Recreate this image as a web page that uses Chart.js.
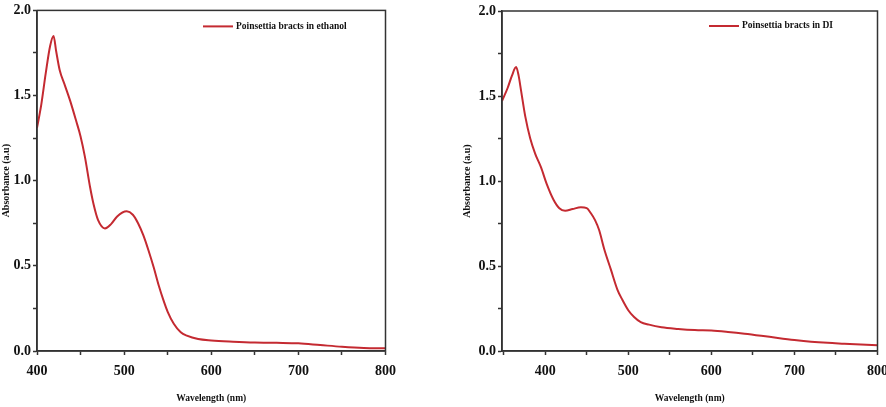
<!DOCTYPE html>
<html>
<head>
<meta charset="utf-8">
<script src="https://cdn.jsdelivr.net/npm/chart.js@4/dist/chart.umd.min.js"></script>
<style>
  html, body { margin: 0; padding: 0; background: #fff; }
  #wrap { position: relative; width: 886px; height: 407px; overflow: hidden; }
  .box { position: absolute; top: 0; height: 407px; }
  #leftBox { left: 0; width: 404px; }
  #rightBox { left: 440px; width: 456px; }
</style>
</head>
<body>
<div id="wrap">
  <div class="box" id="leftBox"><canvas id="ethanolChart"></canvas></div>
  <div class="box" id="rightBox"><canvas id="diChart"></canvas></div>
</div>
<script>
// ethanol extract
const ethanolWavelength = [400, 405, 410, 415, 419, 422, 426, 432, 438, 445, 450, 455, 461, 465, 470, 478, 485, 492, 503, 510, 516, 522, 528, 534, 540, 545, 550, 557, 565, 572, 585, 600, 625, 650, 675, 700, 725, 750, 775, 800];
const ethanolAbs = [1.31, 1.45, 1.63, 1.79, 1.85, 1.76, 1.65, 1.56, 1.47, 1.35, 1.26, 1.14, 0.96, 0.86, 0.77, 0.72, 0.745, 0.79, 0.82, 0.80, 0.75, 0.68, 0.59, 0.49, 0.38, 0.30, 0.23, 0.16, 0.11, 0.09, 0.07, 0.062, 0.055, 0.05, 0.048, 0.045, 0.035, 0.025, 0.018, 0.016];

// DI water extract
const diWavelength = [348, 355, 360, 365, 368, 371, 376, 382, 388, 395, 402, 410, 417, 424, 433, 443, 450, 455, 460, 465, 471, 479, 487, 493, 500, 507, 515, 525, 540, 560, 580, 600, 620, 640, 660, 680, 700, 720, 740, 760, 780, 800];
const diAbs = [1.47, 1.55, 1.62, 1.67, 1.62, 1.53, 1.38, 1.25, 1.16, 1.08, 0.98, 0.89, 0.84, 0.825, 0.835, 0.845, 0.84, 0.81, 0.77, 0.71, 0.60, 0.48, 0.36, 0.30, 0.24, 0.20, 0.17, 0.155, 0.14, 0.13, 0.123, 0.12, 0.112, 0.102, 0.09, 0.077, 0.065, 0.055, 0.048, 0.043, 0.038, 0.034];

const yTicks = ["0.0", "0.5", "1.0", "1.5", "2.0"];

const lineColor = "#c42a31";
const axisColor = "#333333";
const serif = "'Liberation Serif', 'Times New Roman', serif";

// box round the plot + legend drawn inside it
const frame = {
    id: "frame",
    afterDraw(chart, args, opts) {
        const a = chart.chartArea;
        const ctx = chart.ctx;
        ctx.save();
        ctx.strokeStyle = axisColor;
        ctx.lineWidth = 1.5;
        ctx.strokeRect(a.left, a.top, a.right - a.left, a.bottom - a.top);

        const ds = chart.data.datasets[0];
        const lx = a.left + opts.dx;
        const ly = a.top + opts.dy;
        ctx.strokeStyle = ds.borderColor;
        ctx.lineWidth = 2;
        ctx.beginPath();
        ctx.moveTo(lx, ly);
        ctx.lineTo(lx + 30, ly);
        ctx.stroke();
        ctx.fillStyle = "#111";
        ctx.font = "bold 9.5px " + serif;
        ctx.textBaseline = "middle";
        ctx.fillText(ds.label, lx + 33, ly);
        ctx.restore();
    }
};

function makeChart(id, label, xs, ys, xMin, opt) {
    const ctx = document.getElementById(id).getContext("2d");
    return new Chart(ctx, {
        type: "line",
        data: {
            datasets: [{
                label: label,
                data: xs.map((x, i) => ({ x: x, y: ys[i] })),
                borderColor: lineColor,
                borderWidth: 2,
                pointRadius: 0,
                cubicInterpolationMode: "monotone",
            }],
        },
        options: {
            responsive: true,
            maintainAspectRatio: false,
            animation: false,
            layout: { padding: opt.padding },
            plugins: {
                tooltip: { enabled: false },
                legend: { display: false },
                frame: { dx: opt.legendX, dy: opt.legendY },
            },
            scales: {
                x: {
                    type: "linear",
                    min: xMin,
                    max: 800,
                    afterFit: s => { s.height = 56; },
                    afterBuildTicks: s => {
                        const t = [];
                        for (let v = Math.ceil(xMin / 50) * 50; v <= 800; v += 50) t.push({ value: v });
                        s.ticks = t;
                    },
                    border: { color: axisColor, width: 1.5 },
                    grid: { drawOnChartArea: false, tickLength: 4, color: axisColor, tickWidth: 1.5 },
                    ticks: {
                        autoSkip: false,
                        maxRotation: 0,
                        padding: 8,
                        color: "#111",
                        font: { family: serif, size: 14, weight: "bold" },
                        callback: v => (v % 100 === 0 ? String(v) : ""),
                    },
                    title: {
                        display: true,
                        text: "Wavelength (nm)",
                        color: "#111",
                        padding: { top: 2, bottom: 3 },
                        font: { family: serif, size: 9.5, weight: "bold" },
                    },
                },
                y: {
                    min: 0,
                    max: 2,
                    afterFit: s => { s.width = opt.yWidth; },
                    border: { color: axisColor, width: 1.5 },
                    grid: { drawOnChartArea: false, tickLength: 4, color: axisColor, tickWidth: 1.5 },
                    ticks: {
                        stepSize: 0.25,
                        autoSkip: false,
                        padding: 2,
                        color: "#111",
                        font: { family: serif, size: 14, weight: "bold" },
                        callback: v => {
                            const k = Math.round(v * 2);
                            return Math.abs(v * 2 - k) < 1e-6 ? yTicks[k] : "";
                        },
                    },
                    title: {
                        display: true,
                        text: "Absorbance (a.u)",
                        color: "#111",
                        padding: { top: 0, bottom: 0 },
                        font: { family: serif, size: 10, weight: "bold" },
                    },
                },
            },
        },
        plugins: [frame],
    });
}

makeChart("ethanolChart", "Poinsettia bracts in ethanol", ethanolWavelength, ethanolAbs, 400,
    { padding: { left: 0, right: 15, top: 7, bottom: 0 }, yWidth: 37, legendX: 166, legendY: 16 });
makeChart("diChart", "Poinsettia bracts in DI", diWavelength, diAbs, 348,
    { padding: { left: 21, right: 10, top: 11, bottom: 0 }, yWidth: 41, legendX: 207, legendY: 15 });
</script>
</body>
</html>
